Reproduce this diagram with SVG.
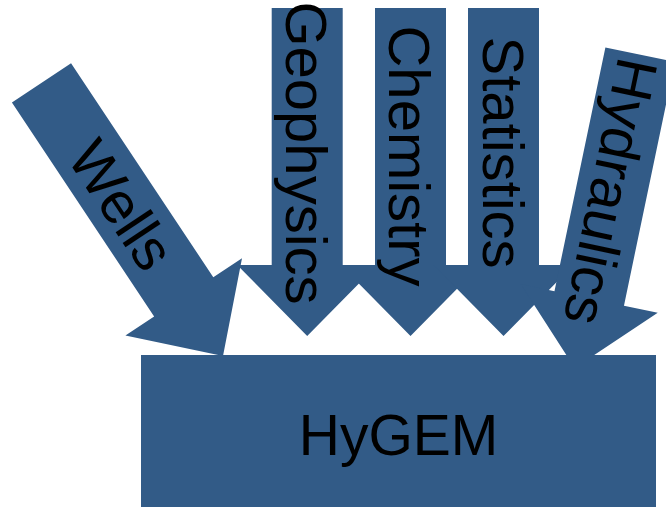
<svg xmlns="http://www.w3.org/2000/svg" xmlns:xlink="http://www.w3.org/1999/xlink" width="666" height="507" viewBox="0 0 666 507">
  <style>
    .shape { fill: #325b87; }
    .lbl { font-family: "Liberation Sans", Arial, sans-serif; font-size: 58px; fill: #000000; text-anchor: middle; }
    .big { font-size: 57px; }
  </style>
  <defs>
    <path id="arrow328" d="M-35.5,-328 H35.5 V-71 H70 L0,0 L-70,-71 H-35.5 Z"/>
    <path id="arrow320" d="M-35.5,-320 H35.5 V-71 H70 L0,0 L-70,-71 H-35.5 Z"/>
  </defs>
  <rect width="666" height="507" fill="#ffffff"/>
  <g id="connectors">
    <g id="wells" transform="translate(223,356) rotate(-33.6)">
      <use xlink:href="#arrow328" href="#arrow328" class="shape"/>
      <text class="lbl" transform="rotate(90)" x="-182" y="21">Wells</text>
    </g>
    <g id="geophysics" transform="translate(307.2,336)">
      <use xlink:href="#arrow328" href="#arrow328" class="shape"/>
      <text class="lbl" transform="rotate(90)" x="-183" y="21">Geophysics</text>
    </g>
    <g id="chemistry" transform="translate(410.5,336)">
      <use xlink:href="#arrow328" href="#arrow328" class="shape"/>
      <text class="lbl" transform="rotate(90)" x="-180" y="21.5">Chemistry</text>
    </g>
    <g id="statistics" transform="translate(503.5,336)">
      <use xlink:href="#arrow328" href="#arrow328" class="shape"/>
      <text class="lbl" transform="rotate(90)" x="-183.5" y="21">Statistics</text>
    </g>
    <g id="hydraulics" transform="translate(574.7,367.9) rotate(11.8)">
      <use xlink:href="#arrow320" href="#arrow320" class="shape"/>
      <text class="lbl" transform="rotate(90)" x="-180" y="21">Hydraulics</text>
    </g>
  </g>
  <g id="hygem">
    <rect class="shape" x="141" y="355" width="515" height="152"/>
    <text class="lbl big" x="398.5" y="455">HyGEM</text>
  </g>
</svg>
